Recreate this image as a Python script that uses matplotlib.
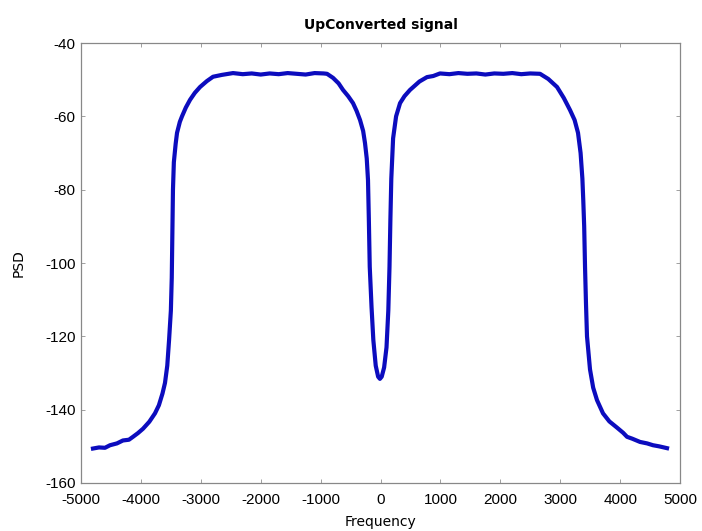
import matplotlib
matplotlib.use("Agg")
import matplotlib.pyplot as plt
import numpy as np

# PSD of the upconverted signal (dB), sampled along the frequency axis
freq = [-4800, -4700, -4600, -4516, -4400, -4300, -4200, -4132, -4050, -3965,
        -3860, -3765, -3700, -3640, -3598, -3560, -3530, -3500, -3485, -3475,
        -3465, -3450, -3420, -3397, -3350, -3314, -3250, -3180, -3100, -3013,
        -2900, -2796, -2650, -2462, -2300, -2150, -2000, -1850, -1700, -1550,
        -1400, -1250, -1100, -950, -893, -793, -700, -626, -540, -459,
        -400, -342, -290, -259, -230, -209, -195, -180, -150, -120,
        -80, -40, -10, 20, 60, 100, 130, 150, 165, 180,
        210, 260, 326, 400, 492, 650, 776, 880, 993, 1150,
        1300, 1450, 1600, 1750, 1900, 2050, 2200, 2350, 2500, 2663,
        2800, 2947, 3060, 3164, 3240, 3297, 3340, 3370, 3385, 3400,
        3414, 3430, 3447, 3497, 3550, 3614, 3714, 3820, 3948, 4050,
        4115, 4200, 4332, 4450, 4549, 4650, 4783]
psd = [-150.6, -150.3, -150.4, -149.7, -149.2, -148.4, -148.2, -147.4, -146.4, -145.2,
       -143.3, -141.0, -138.8, -135.6, -132.7, -128.0, -121.0, -113.0, -104.0, -92.0,
       -80.0, -72.5, -67.5, -64.5, -61.5, -60.0, -57.6, -55.5, -53.6, -52.0,
       -50.4, -49.2, -48.7, -48.2, -48.5, -48.3, -48.6, -48.3, -48.5, -48.2,
       -48.4, -48.6, -48.2, -48.3, -48.4, -49.5, -51.0, -52.8, -54.5, -56.4,
       -58.5, -61.0, -64.0, -67.3, -71.5, -77.4, -88.0, -101.0, -112.0, -121.0,
       -128.0, -131.0, -131.6, -131.0, -128.5, -123.0, -113.0, -101.0, -88.0, -77.0,
       -66.0, -60.0, -56.4, -54.5, -52.8, -50.5, -49.3, -49.0, -48.3, -48.5,
       -48.2, -48.4, -48.3, -48.6, -48.3, -48.4, -48.2, -48.5, -48.3, -48.4,
       -49.8, -52.0, -55.0, -58.3, -61.0, -64.5, -70.0, -77.0, -83.0, -90.0,
       -101.0, -111.0, -120.0, -129.0, -134.0, -137.4, -141.0, -143.2, -144.9, -146.3,
       -147.4, -147.9, -148.8, -149.2, -149.7, -150.0, -150.5]

x_ticks = np.arange(-5000, 5001, 1000)
y_ticks = np.arange(-160, -39, 20)

fig = plt.figure(figsize=(7.02, 5.31), dpi=100)
ax = fig.add_axes([0.1154, 0.0904, 0.8533, 0.8286])

ax.plot(freq, psd, color='#0c0cbe', linewidth=3.0, solid_joinstyle='round')

ax.set_xlim(-5000, 5000)
ax.set_ylim(-160, -40)
ax.set_xticks(x_ticks)
ax.set_yticks(y_ticks)

font = ['Liberation Sans', 'DejaVu Sans']
ax.set_xticklabels([str(v) for v in x_ticks], fontsize=11, family=font)
ax.set_yticklabels([str(v) for v in y_ticks], fontsize=11, family=font)

ax.tick_params(direction='in', length=3, width=0.6, color='#909090',
               top=True, right=True)
ax.tick_params(axis='x', pad=7)
ax.tick_params(axis='y', pad=4)
for side in ax.spines.values():
    side.set_color('#888888')
    side.set_linewidth(0.9)

ax.set_title('UpConverted signal', fontsize=10, fontweight='semibold',
             family='DejaVu Sans', pad=10)
ax.set_xlabel('Frequency', fontsize=10, family='DejaVu Sans', labelpad=6)
ax.set_ylabel('PSD', fontsize=10, family='DejaVu Sans', labelpad=14)

fig.savefig('out.png', dpi=100)
